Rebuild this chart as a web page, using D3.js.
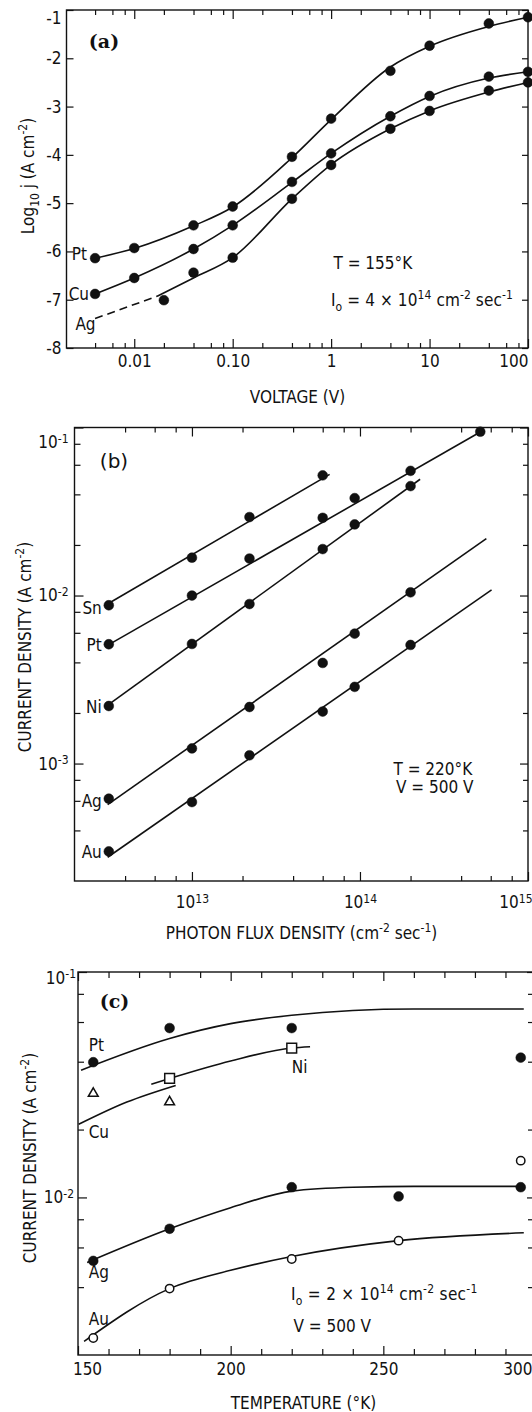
<!DOCTYPE html>
<html>
<head>
<meta charset="utf-8">
<script src="https://cdn.jsdelivr.net/npm/d3@7"></script>
<style>
  body { margin: 0; background: #fff; }
  svg { display: block; }
  text { white-space: pre; fill: #111; }
</style>
</head>
<body>
<svg></svg>
<script>
// ---------- panel (a): log10 j vs voltage (T = 155 K)
const aPtV = [0.004, 0.01, 0.04, 0.1, 0.4, 1, 4, 10, 40, 100]
const aPtJ = [-6.14, -5.93, -5.46, -5.07, -4.04, -3.25, -2.26, -1.74, -1.28, -1.15]
const aCuV = [0.004, 0.01, 0.04, 0.1, 0.4, 1, 4, 10, 40, 100]
const aCuJ = [-6.88, -6.55, -5.95, -5.46, -4.56, -3.97, -3.2, -2.78, -2.38, -2.28]
const aAgV = [0.02, 0.04, 0.1, 0.4, 1, 4, 10, 40, 100]
const aAgJ = [-7.01, -6.44, -6.13, -4.91, -4.21, -3.46, -3.09, -2.67, -2.5]
// drawn curves
const aPtFitV = [0.004, 0.01, 0.04, 0.1, 0.4, 1, 4, 10, 40, 100]
const aPtFitJ = [-6.14, -5.94, -5.47, -5.08, -4.06, -3.27, -2.18, -1.75, -1.34, -1.15]
const aCuFitV = [0.004, 0.01, 0.04, 0.1, 0.4, 1, 4, 10, 40, 100]
const aCuFitJ = [-6.88, -6.55, -5.95, -5.46, -4.57, -3.97, -3.2, -2.79, -2.41, -2.28]
const aAgFitV = [0.017, 0.04, 0.1, 0.4, 1, 4, 10, 40, 100]
const aAgFitJ = [-6.93, -6.55, -6.13, -4.91, -4.2, -3.46, -3.09, -2.7, -2.5]
const aAgDashV = [0.004, 0.017]
const aAgDashJ = [-7.39, -6.93]
const aXTicks = [0.01, 0.1, 1, 10, 100]
const aXLabels = ["0.01", "0.10", "1", "10", "100"]
const aYTicks = [-8, -7, -6, -5, -4, -3, -2, -1]

// ---------- panel (b): current density vs photon flux (T = 220 K)
const bFlux = [3.2e12, 1e13, 2.2e13, 6e13, 9.3e13, 2e14, 5.2e14]
const bSn = [8.75e-3, 1.68e-2, 2.93e-2, 5.19e-2]
const bPt = [5.13e-3, 1.0e-2, 1.66e-2, 2.9e-2, 3.8e-2, 5.52e-2, 9.44e-2]
const bNi = [2.2e-3, 5.15e-3, 8.9e-3, 1.89e-2, 2.65e-2, 4.48e-2]
const bAg = [6.18e-4, 1.23e-3, 2.17e-3, 3.97e-3, 5.93e-3, 1.045e-2]
const bAu = [3.0e-4, 5.9e-4, 1.12e-3, 2.04e-3, 2.86e-3, 5.08e-3]
// fitted straight lines: [flux0, j0, flux1, j1]
const bSnFit = [3.2e12, 9.0e-3, 6.6e13, 5.26e-2]
const bPtFit = [3.2e12, 5.1e-3, 5.2e14, 9.4e-2]
const bNiFit = [3.2e12, 2.25e-3, 2.28e14, 4.92e-2]
const bAgFit = [3.15e12, 5.7e-4, 5.65e14, 2.18e-2]
const bAuFit = [3.15e12, 2.77e-4, 6.07e14, 1.08e-2]
const bXTicks = [1e13, 1e14, 1e15]
const bXLabels = ["10^13", "10^14", "10^15"]
const bYTicks = [1e-3, 1e-2, 1e-1]
const bYLabels = ["10^-3", "10^-2", "10^-1"]

// ---------- panel (c): current density vs temperature
const cPtT = [155, 180, 220, 295]
const cPtJ = [0.0398, 0.0564, 0.0564, 0.0417]
const cNiT = [180, 220]
const cNiJ = [0.0337, 0.046]
const cCuT = [155, 180]
const cCuJ = [0.0289, 0.0265]
const cAgT = [155, 180, 220, 255, 295]
const cAgJ = [0.00523, 0.00726, 0.0111, 0.0101, 0.0111]
const cAuT = [155, 180, 220, 255, 295]
const cAuJ = [0.00238, 0.00394, 0.00533, 0.00643, 0.01456]
const cPtFitT = [151, 180, 200, 220, 240, 260, 296]
const cPtFitJ = [0.0367, 0.0507, 0.059, 0.0643, 0.0675, 0.0685, 0.0685]
const cNiFitT = [174, 180, 200, 220, 226]
const cNiFitJ = [0.0318, 0.0337, 0.0403, 0.046, 0.0466]
const cCuFitT = [150.2, 166, 182]
const cCuFitJ = [0.0211, 0.0265, 0.0314]
const cAgFitT = [153, 180, 200, 220, 240, 260, 296]
const cAgFitJ = [0.00515, 0.00726, 0.009, 0.01067, 0.0111, 0.0112, 0.0112]
const cAuFitT = [152, 180, 200, 220, 255, 296]
const cAuFitJ = [0.0023, 0.00394, 0.00475, 0.00547, 0.00643, 0.00697]
const cXTicks = [150, 200, 250, 300]
const cXLabels = ["150", "200", "250", "300"]
const cYTicks = [1e-2, 1e-1]
const cYLabels = ["10^-2", "10^-1"]

const ink = "#111"
const font = '"Liberation Sans Narrow", "DejaVu Sans Condensed", "Arial Narrow", sans-serif'
const fs = 17

const svg = d3.select("svg").attr("width", 532).attr("height", 1412)
svg.append("rect").attr("width", 532).attr("height", 1412).attr("fill", "#fff")
const root = svg.append("g").attr("font-family", font).attr("font-size", fs)

const boxA = {l: 66.5, t: 10, r: 528, b: 348}
const boxB = {l: 74.5, t: 427.5, r: 528, b: 881}
const boxC = {l: 78, t: 972, r: 536, b: 1355}

const xA = d3.scaleLog().domain([0.00205, 100]).range([boxA.l, boxA.r])
const yA = d3.scaleLinear().domain([-8, -1]).range([boxA.b, boxA.t])
const xB = d3.scaleLog().domain([2e12, 1e15]).range([boxB.l, boxB.r])
const yB = d3.scaleLog().domain([2e-4, 1e-1]).range([boxB.b, boxB.t])
const xC = d3.scaleLinear().domain([150, 300]).range([boxC.l, boxC.r])
const yC = d3.scaleLog().domain([2e-3, 1e-1]).range([boxC.b, boxC.t])

const zip = (a, b) => a.map((v, i) => [v, b[i]])

function logMinor(scale) {
  const [lo, hi] = scale.domain()
  const out = []
  for (let e = Math.floor(Math.log10(lo)); e <= Math.ceil(Math.log10(hi)); e++)
    [2, 4, 6, 8].forEach(m => { const v = m * Math.pow(10, e); if (v > lo * 1.001 && v < hi * 0.999) out.push(v) })
  return out
}

function tickRow(axisFn, scale, values, len, transform) {
  const a = root.append("g").attr("transform", transform)
    .call(axisFn(scale).tickValues(values).tickSize(-len).tickFormat(""))
  a.select(".domain").remove()
  a.selectAll("line").attr("stroke", ink).attr("stroke-width", 1.2)
  return a
}

function labelRow(axisFn, scale, values, labels, pad, transform) {
  const a = root.append("g").attr("transform", transform)
    .call(axisFn(scale).tickValues(values).tickSize(0).tickPadding(pad).tickFormat((d, i) => labels[i]))
  a.select(".domain").remove()
  a.selectAll("line").remove()
  a.attr("font-family", null).attr("font-size", null)
  // 10^n labels with superscripts
  a.selectAll("text").each(function () {
    const t = d3.select(this), s = t.text()
    if (s.indexOf("^") < 0) return
    const [base, exp] = s.split("^")
    t.text(null)
    t.append("tspan").text(base)
    t.append("tspan").attr("dy", "-0.45em").attr("font-size", 12).text(exp)
  })
  return a
}

function frame(box) {
  root.append("rect")
    .attr("x", box.l).attr("y", box.t)
    .attr("width", box.r - box.l).attr("height", box.b - box.t)
    .attr("fill", "none").attr("stroke", ink).attr("stroke-width", 1.4)
}

function rich(x, y, parts, size, g) {
  const t = (g || root).append("text").attr("x", x).attr("y", y).attr("font-size", size)
  let cur = 0
  parts.forEach(([s, lvl]) => {
    const off = lvl === 1 ? -0.42 * size : lvl === -1 ? 0.3 * size : 0
    t.append("tspan").attr("dy", off - cur).attr("font-size", lvl ? 12 : size).text(s)
    cur = off
  })
  return t
}

function curve(x, y, pts, c, dash) {
  root.append("path").datum(pts)
    .attr("d", d3.line().x(d => x(d[0])).y(d => y(d[1])).curve(c)(pts))
    .attr("fill", "none").attr("stroke", ink).attr("stroke-width", 1.6)
    .attr("stroke-dasharray", dash || null)
}

function dots(x, y, pts, kind) {
  const g = root.append("g")
  if (kind === "filled" || kind === "open") {
    g.selectAll("circle").data(pts).join("circle")
      .attr("cx", d => x(d[0])).attr("cy", d => y(d[1]))
      .attr("r", kind === "filled" ? 4.9 : 4.2)
      .attr("fill", kind === "filled" ? ink : "#fff")
      .attr("stroke", ink).attr("stroke-width", kind === "filled" ? 0.5 : 1.5)
  } else {
    const sym = kind === "square" ? d3.symbol(d3.symbolSquare, 95) : d3.symbol(d3.symbolTriangle, 42)
    g.selectAll("path").data(pts).join("path")
      .attr("transform", d => `translate(${x(d[0])},${y(d[1])})`)
      .attr("d", sym).attr("fill", "#fff").attr("stroke", ink).attr("stroke-width", 1.5)
  }
}

function seriesLabel(x, y, s, anchor) {
  root.append("text").attr("x", x).attr("y", y).attr("dy", "0.35em")
    .attr("text-anchor", anchor || "start").text(s)
}

// ================= panel (a)
frame(boxA)
const aMinor = logMinor(xA)
tickRow(d3.axisBottom, xA, aXTicks, 9, `translate(0,${boxA.b})`)
tickRow(d3.axisBottom, xA, aMinor, 5, `translate(0,${boxA.b})`)
tickRow(d3.axisTop, xA, aXTicks, 9, `translate(0,${boxA.t})`)
tickRow(d3.axisTop, xA, aMinor, 5, `translate(0,${boxA.t})`)
tickRow(d3.axisLeft, yA, aYTicks, 7, `translate(${boxA.l},0)`)
tickRow(d3.axisRight, yA, aYTicks, 6, `translate(${boxA.r},0)`)
const aXL = labelRow(d3.axisBottom, xA, aXTicks, aXLabels, 7, `translate(0,${boxA.b})`)
aXL.selectAll("text").filter(d => d === 100).attr("text-anchor", "end")
const aYL = labelRow(d3.axisLeft, yA, aYTicks, aYTicks.map(String), 5, `translate(${boxA.l},0)`)
aYL.selectAll("text").filter(d => d === -1).attr("dy", "0.8em")

curve(xA, yA, zip(aPtFitV, aPtFitJ), d3.curveMonotoneX)
curve(xA, yA, zip(aCuFitV, aCuFitJ), d3.curveMonotoneX)
curve(xA, yA, zip(aAgFitV, aAgFitJ), d3.curveMonotoneX)
curve(xA, yA, zip(aAgDashV, aAgDashJ), d3.curveLinear, "8,5")
dots(xA, yA, zip(aPtV, aPtJ), "filled")
dots(xA, yA, zip(aCuV, aCuJ), "filled")
dots(xA, yA, zip(aAgV, aAgJ), "filled")

seriesLabel(xA(0.004) - 8, yA(-6.06), "Pt", "end")
seriesLabel(xA(0.004) - 6, yA(-6.88), "Cu", "end")
seriesLabel(xA(0.004) + 0.5, yA(-7.5), "Ag", "end")

root.append("text").attr("x", 104).attr("y", 41).attr("dy", "0.35em")
  .attr("text-anchor", "middle").attr("font-family", "DejaVu Serif").attr("font-weight", "bold")
  .attr("font-size", 19).text("(a)")
rich(333.5, 268.5, [["T = 155°K", 0]], fs)
rich(331, 306, [["I", 0], ["o", -1], [" = 4 × 10", 0], ["14", 1], [" cm", 0], ["-2", 1], [" sec", 0], ["-1", 1]], fs)
  .attr("letter-spacing", 0.1)

root.append("text").attr("x", 297.5).attr("y", 403).attr("text-anchor", "middle").text("VOLTAGE (V)")
rich(0, 0, [["Log", 0], ["10", -1], [" j ", 0], ["(", 0], ["A cm", 0], ["-2", 1], [")", 0]], fs)
  .attr("text-anchor", "middle").attr("transform", "translate(34,176) rotate(-90)")

// ================= panel (b)
frame(boxB)
const bXMinor = logMinor(xB), bYMinor = logMinor(yB)
tickRow(d3.axisBottom, xB, bXTicks, 9, `translate(0,${boxB.b})`)
tickRow(d3.axisBottom, xB, bXMinor, 5, `translate(0,${boxB.b})`)
tickRow(d3.axisTop, xB, bXTicks, 9, `translate(0,${boxB.t})`)
tickRow(d3.axisTop, xB, bXMinor, 5, `translate(0,${boxB.t})`)
tickRow(d3.axisLeft, yB, bYTicks, 9, `translate(${boxB.l},0)`)
tickRow(d3.axisLeft, yB, bYMinor, 6, `translate(${boxB.l},0)`)
tickRow(d3.axisRight, yB, bYTicks, 8, `translate(${boxB.r},0)`)
tickRow(d3.axisRight, yB, bYMinor, 5, `translate(${boxB.r},0)`)
const bXL = labelRow(d3.axisBottom, xB, bXTicks, bXLabels, 15, `translate(0,${boxB.b})`)
bXL.selectAll("text").filter(d => d === 1e15).attr("text-anchor", "end").attr("x", 4)
const bYL = labelRow(d3.axisLeft, yB, bYTicks, bYLabels, 6, `translate(${boxB.l},0)`)
bYL.selectAll("text").filter(d => d === 1e-1).attr("dy", "1.2em")

;[bSnFit, bPtFit, bNiFit, bAgFit, bAuFit].forEach(f =>
  curve(xB, yB, [[f[0], f[1]], [f[2], f[3]]], d3.curveLinear))
dots(xB, yB, zip(bFlux.slice(0, bSn.length), bSn), "filled")
dots(xB, yB, zip(bFlux, bPt), "filled")
dots(xB, yB, zip(bFlux.slice(0, bNi.length), bNi), "filled")
dots(xB, yB, zip(bFlux.slice(0, bAg.length), bAg), "filled")
dots(xB, yB, zip(bFlux.slice(0, bAu.length), bAu), "filled")

const bLx = xB(bFlux[0]) - 7
seriesLabel(bLx, yB(bSn[0]) + 3, "Sn", "end")
seriesLabel(bLx, yB(bPt[0]) + 1, "Pt", "end")
seriesLabel(bLx, yB(bNi[0]) + 1, "Ni", "end")
seriesLabel(bLx, yB(bAg[0]) + 2, "Ag", "end")
seriesLabel(bLx, yB(bAu[0]) + 1, "Au", "end")

root.append("text").attr("x", 114).attr("y", 461).attr("dy", "0.35em")
  .attr("text-anchor", "middle").attr("font-family", "DejaVu Sans")
  .attr("font-size", 20).text("(b)")
rich(393.5, 775, [["T = 220°K", 0]], fs)
rich(396, 793, [["V = 500 V", 0]], fs)

rich(0, 0, [["PHOTON FLUX DENSITY ", 0], ["(", 0], ["cm", 0], ["-2", 1], [" sec", 0], ["-1", 1], [")", 0]], fs)
  .attr("text-anchor", "middle").attr("transform", "translate(301.5,939)")
rich(0, 0, [["CURRENT DENSITY ", 0], ["(", 0], ["A cm", 0], ["-2", 1], [")", 0]], fs)
  .attr("text-anchor", "middle").attr("transform", "translate(31,647) rotate(-90)")

// ================= panel (c)
frame(boxC)
const cXMinor = d3.range(160, 300, 10).filter(v => v % 50 !== 0)
const cYMinor = logMinor(yC)
tickRow(d3.axisBottom, xC, cXTicks, 9, `translate(0,${boxC.b})`)
tickRow(d3.axisBottom, xC, cXMinor, 6, `translate(0,${boxC.b})`)
tickRow(d3.axisTop, xC, cXTicks, 9, `translate(0,${boxC.t})`)
tickRow(d3.axisTop, xC, cXMinor, 6, `translate(0,${boxC.t})`)
tickRow(d3.axisLeft, yC, cYTicks, 9, `translate(${boxC.l},0)`)
tickRow(d3.axisLeft, yC, cYMinor, 6, `translate(${boxC.l},0)`)
tickRow(d3.axisRight, yC, cYTicks, 9, `translate(${boxC.r},0)`)
tickRow(d3.axisRight, yC, cYMinor, 8, `translate(${boxC.r},0)`)
const cXL = labelRow(d3.axisBottom, xC, cXTicks, cXLabels, 8, `translate(0,${boxC.b})`)
cXL.selectAll("text").filter(d => d === 150).attr("x", 9)
cXL.selectAll("text").filter(d => d === 300).attr("text-anchor", "end").attr("x", -4)
const cYL = labelRow(d3.axisLeft, yC, cYTicks, cYLabels, 4, `translate(${boxC.l},0)`)
cYL.selectAll("text").filter(d => d === 1e-1).attr("dy", "0.65em").attr("x", -2)

curve(xC, yC, zip(cPtFitT, cPtFitJ), d3.curveMonotoneX)
curve(xC, yC, zip(cNiFitT, cNiFitJ), d3.curveMonotoneX)
curve(xC, yC, zip(cCuFitT, cCuFitJ), d3.curveMonotoneX)
curve(xC, yC, zip(cAgFitT, cAgFitJ), d3.curveMonotoneX)
curve(xC, yC, zip(cAuFitT, cAuFitJ), d3.curveMonotoneX)
dots(xC, yC, zip(cPtT, cPtJ), "filled")
dots(xC, yC, zip(cNiT, cNiJ), "square")
dots(xC, yC, zip(cCuT, cCuJ), "triangle")
dots(xC, yC, zip(cAgT, cAgJ), "filled")
dots(xC, yC, zip(cAuT, cAuJ), "open")

seriesLabel(xC(153.5), yC(0.0474), "Pt")
seriesLabel(xC(153.5), yC(0.01954), "Cu")
seriesLabel(xC(220), yC(0.0379), "Ni")
seriesLabel(xC(153.5), yC(0.00468), "Ag")
seriesLabel(xC(153.5), yC(0.00288), "Au")

root.append("text").attr("x", 114.5).attr("y", 1001).attr("dy", "0.35em")
  .attr("text-anchor", "middle").attr("font-family", "DejaVu Serif").attr("font-weight", "bold")
  .attr("font-size", 19).text("(c)")
rich(291, 1300, [["I", 0], ["o", -1], [" = 2 × 10", 0], ["14", 1], [" cm", 0], ["-2", 1], [" sec", 0], ["-1", 1]], fs)
  .attr("letter-spacing", 0.3)
rich(293.5, 1332, [["V = 500 V", 0]], fs)

root.append("text").attr("x", 303.5).attr("y", 1409).attr("text-anchor", "middle").text("TEMPERATURE (°K)")
rich(0, 0, [["CURRENT DENSITY ", 0], ["(", 0], ["A cm", 0], ["-2", 1], [")", 0]], fs)
  .attr("text-anchor", "middle").attr("transform", "translate(36,1158) rotate(-90)")
</script>
</body>
</html>
